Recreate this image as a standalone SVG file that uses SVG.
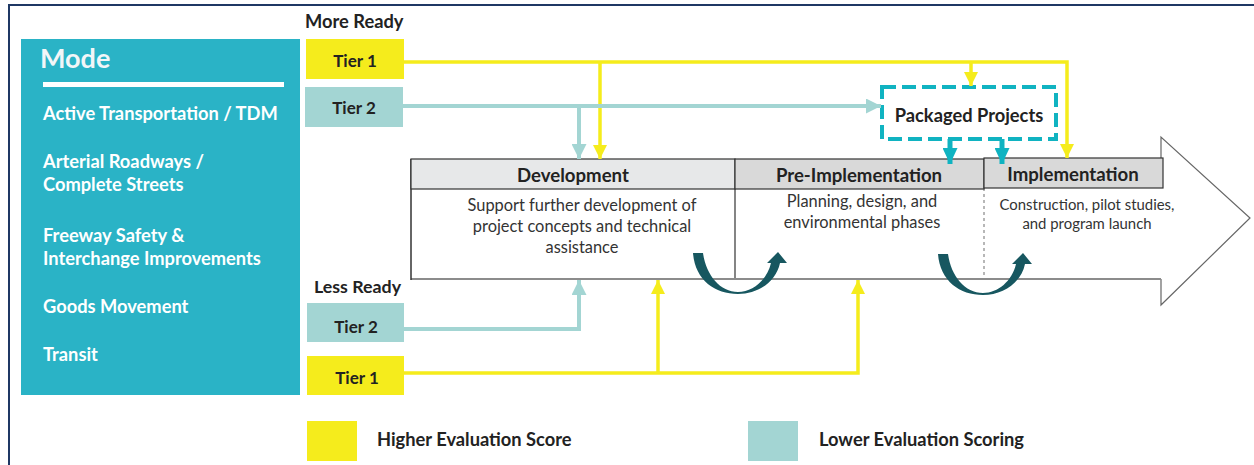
<svg xmlns="http://www.w3.org/2000/svg" width="1254" height="465" viewBox="0 0 1254 465">
<style>
  .b { font-family: Lato, "Liberation Sans", sans-serif; font-weight: bold; }
  .r { font-family: Lato, "Liberation Sans", sans-serif; font-weight: normal; }
  .mode { fill: #ffffff; font-size: 18.3px; }
  .tier { fill: #222222; font-size: 17px; text-anchor: middle; }
  .lbl { fill: #222222; font-size: 18.3px; }
  .hdr { fill: #222222; font-size: 18.6px; text-anchor: middle; }
  .body { fill: #333333; font-size: 16.4px; text-anchor: middle; }
  .body.sm { font-size: 14.9px; }
  .yl { fill: none; stroke: #F5EC1C; stroke-width: 3.5; }
  .tl { fill: none; stroke: #A3D5D3; stroke-width: 4; }
  .pl { fill: none; stroke: #10B3C1; stroke-width: 5; }
  .curve { fill: #175760; }
</style>
<defs>
  <marker id="ah-y" viewBox="0 0 14 14" refX="14" refY="7" markerWidth="14" markerHeight="14" markerUnits="userSpaceOnUse" orient="auto">
    <path d="M0,0 L14,7 L0,14 z" fill="#F5EC1C"/>
  </marker>
  <marker id="ah-t" viewBox="0 0 15 15" refX="15" refY="7.5" markerWidth="15" markerHeight="15" markerUnits="userSpaceOnUse" orient="auto">
    <path d="M0,0 L15,7.5 L0,15 z" fill="#A3D5D3"/>
  </marker>
  <marker id="ah-p" viewBox="0 0 16 15" refX="16" refY="7.5" markerWidth="16" markerHeight="15" markerUnits="userSpaceOnUse" orient="auto">
    <path d="M0,0 L16,7.5 L0,15 z" fill="#10B3C1"/>
  </marker>
</defs>

<rect x="0" y="0" width="1254" height="465" fill="#ffffff"/>
<!-- frame -->
<path d="M9,465 V5 H1254" fill="none" stroke="#1F3864" stroke-width="2"/>

<!-- Mode panel -->
<g id="mode">
  <rect x="21" y="39" width="279" height="356" fill="#2AB3C6"/>
  <text class="b" x="40" y="68" font-size="27" fill="#F2F6F8">Mode</text>
  <rect x="43" y="82" width="241" height="5" fill="#ffffff"/>
  <text class="b mode" x="43" y="120">Active Transportation / TDM</text>
  <text class="b mode" x="43" y="168">Arterial Roadways /</text>
  <text class="b mode" x="43" y="191">Complete Streets</text>
  <text class="b mode" x="43" y="242">Freeway Safety &amp;</text>
  <text class="b mode" x="43" y="265">Interchange Improvements</text>
  <text class="b mode" x="43" y="313">Goods Movement</text>
  <text class="b mode" x="43" y="361">Transit</text>
</g>

<!-- readiness labels -->
<text class="b lbl" x="305" y="28">More Ready</text>
<text class="b lbl" x="314" y="293" style="font-size:17.8px">Less Ready</text>

<!-- big arrow -->
<g id="process-arrow">
  <path d="M411,189 V279 H1161 V305 L1250,218 L1161,137 V158" fill="#ffffff" stroke="none"/>
  <path d="M1161,279 V305 L1250,218 L1161,137 V158" fill="none" stroke="#666666" stroke-width="1.2"/>
  <line x1="411" y1="279" x2="1161" y2="279" stroke="#8C8C8C" stroke-width="2.2"/>
  <line x1="411" y1="159" x2="411" y2="280" stroke="#333333" stroke-width="1.5"/>
  <line x1="735" y1="189" x2="735" y2="278" stroke="#333333" stroke-width="1.2"/>
  <line x1="984" y1="188" x2="984" y2="278" stroke="#888888" stroke-width="1.2" stroke-dasharray="3,3"/>
</g>

<g id="development">
  <rect x="411" y="159" width="324" height="30" fill="#E7E8E9" stroke="#333333" stroke-width="1.2"/>
  <text class="b hdr" x="573" y="182">Development</text>
  <text class="r body" x="582" y="211">Support further development of</text>
  <text class="r body" x="582" y="232">project concepts and technical</text>
  <text class="r body" x="582" y="253">assistance</text>
</g>

<g id="pre-implementation">
  <rect x="735" y="159" width="249" height="30" fill="#D9D9D9" stroke="#333333" stroke-width="1.2"/>
  <text class="b hdr" x="859" y="182">Pre-Implementation</text>
  <text class="r body" x="862" y="207">Planning, design, and</text>
  <text class="r body" x="862" y="228">environmental phases</text>
</g>

<g id="implementation">
  <rect x="984" y="158" width="179" height="30" fill="#D9D9D9" stroke="#333333" stroke-width="1.2"/>
  <text class="b hdr" x="1073" y="181">Implementation</text>
  <text class="r body sm" x="1087" y="210">Construction, pilot studies,</text>
  <text class="r body sm" x="1087" y="229">and program launch</text>
</g>

<g id="packaged-projects">
  <rect x="882" y="87" width="174" height="52" fill="#ffffff" stroke="#10B3C1" stroke-width="4" stroke-dasharray="14,6"/>
  <text class="b lbl" x="969" y="122" text-anchor="middle" fill="#333333">Packaged Projects</text>
</g>

<!-- tier boxes -->
<g id="tier1-more">
  <rect x="306" y="39" width="98" height="40" fill="#F5EC1C"/>
  <text class="b tier" x="355" y="67">Tier 1</text>
</g>
<g id="tier2-more">
  <rect x="305" y="87" width="98" height="40" fill="#A3D5D3"/>
  <text class="b tier" x="354" y="114">Tier 2</text>
</g>
<g id="tier2-less">
  <rect x="307" y="303" width="97" height="39" fill="#A3D5D3"/>
  <text class="b tier" x="356" y="333">Tier 2</text>
</g>
<g id="tier1-less">
  <rect x="307" y="356" width="97" height="39" fill="#F5EC1C"/>
  <text class="b tier" x="357" y="384">Tier 1</text>
</g>

<!-- connectors -->
<g id="connectors">
  <path class="yl" d="M404,62 H1067 V158" marker-end="url(#ah-y)"/>
  <path class="yl" d="M600,62 V159" marker-end="url(#ah-y)"/>
  <path class="yl" d="M971,62 V86" marker-end="url(#ah-y)"/>
  <path class="tl" d="M403,106 H881" marker-end="url(#ah-t)"/>
  <path class="tl" d="M579,106 V159" marker-end="url(#ah-t)"/>
  <path class="tl" d="M404,329 H579 V280" marker-end="url(#ah-t)"/>
  <path class="yl" d="M404,373 H858 V280" marker-end="url(#ah-y)"/>
  <path class="yl" d="M658,373 V280" marker-end="url(#ah-y)"/>
  <path class="pl" d="M950,139 V164" marker-end="url(#ah-p)"/>
  <path class="pl" d="M1002,139 V164" marker-end="url(#ah-p)"/>
  <path id="curve1" class="curve" d="M693,253 C695,280 715,294 738,294 C758,294 776,282 780,263 L787,263 L778,252 L767,263 L771,263 C767,280 753,292 738,292 C720,292 706,275 703,253 Z"/>
  <path id="curve2" class="curve" transform="translate(245,1)" d="M693,253 C695,280 715,294 738,294 C758,294 776,282 780,263 L787,263 L778,252 L767,263 L771,263 C767,280 753,292 738,292 C720,292 706,275 703,253 Z"/>
</g>

<!-- legend -->
<g id="legend">
  <rect x="307" y="421" width="50" height="40" fill="#F5EC1C"/>
  <text class="b lbl" x="377" y="446">Higher Evaluation Score</text>
  <rect x="748" y="421" width="50" height="40" fill="#A3D5D3"/>
  <text class="b lbl" x="819" y="446">Lower Evaluation Scoring</text>
</g>
</svg>
